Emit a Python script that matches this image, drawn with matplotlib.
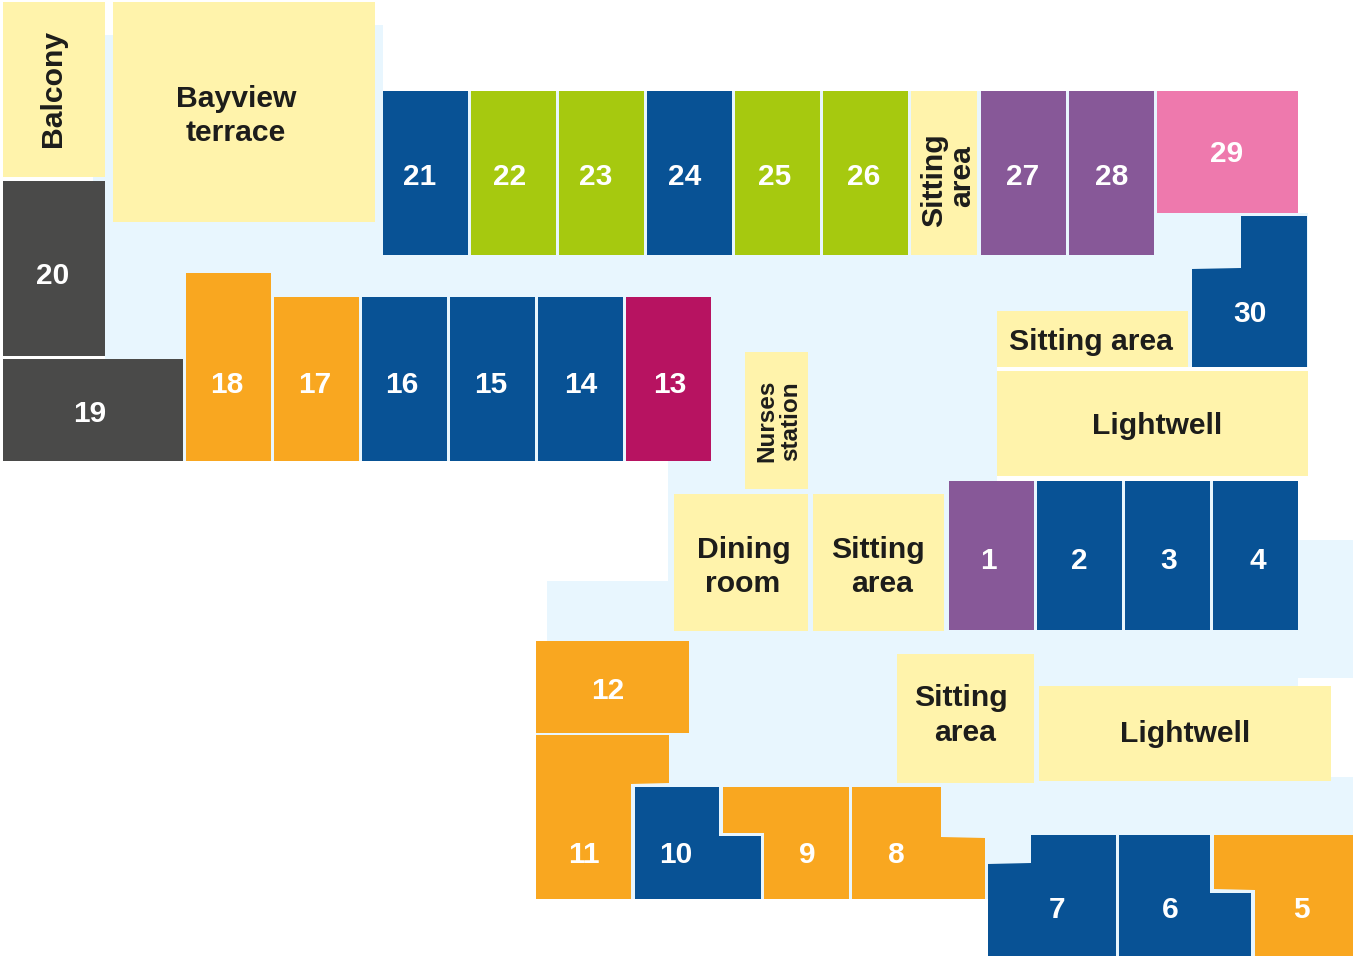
import matplotlib
matplotlib.use('Agg')
import matplotlib.pyplot as plt
from matplotlib.patches import Polygon

plt.rcParams['font.family'] = ['Liberation Sans', 'DejaVu Sans']

W, H = 1353, 957

# corridor outline, in image pixels
floor_outline = [(105, 35), (113, 35), (113, 25), (383, 25), (383, 91), (1298, 91), (1298, 213), (1308, 213),
                 (1308, 481), (1298, 481), (1298, 540), (1353, 540), (1353, 678), (1298, 678), (1298, 777),
                 (1353, 777), (1353, 956), (988, 956), (988, 899), (536, 899), (536, 641), (547, 641),
                 (547, 581), (668, 581), (668, 461), (183, 461), (183, 359), (105, 359), (105, 181), (93, 181),
                 (93, 177), (105, 177)]
lightwell_gap = [(997, 367), (1308, 367), (1308, 481), (997, 481)]

# numbered rooms
room_numbers = ['1', '2', '3', '4', '5', '6', '7', '8', '9', '10',
                '11', '12', '13', '14', '15', '16', '17', '18', '19', '20',
                '21', '22', '23', '24', '25', '26', '27', '28', '29', '30']
room_groups = ['purple', 'blue', 'blue', 'blue', 'orange', 'blue', 'blue', 'orange', 'orange', 'blue',
               'orange', 'orange', 'magenta', 'blue', 'blue', 'blue', 'orange', 'orange', 'grey', 'grey',
               'blue', 'green', 'green', 'blue', 'green', 'green', 'purple', 'purple', 'pink', 'blue']
room_outlines = [
    [(949, 481), (1034, 481), (1034, 630), (949, 630)],
    [(1037, 481), (1122, 481), (1122, 630), (1037, 630)],
    [(1125, 481), (1210, 481), (1210, 630), (1125, 630)],
    [(1213, 481), (1298, 481), (1298, 630), (1213, 630)],
    [(1214, 835), (1353, 835), (1353, 956), (1255, 956), (1255, 890), (1214, 889)],
    [(1119, 835), (1210, 835), (1210, 893), (1251, 893), (1251, 956), (1119, 956)],
    [(988, 864), (1031, 863), (1031, 835), (1116, 835), (1116, 956), (988, 956)],
    [(852, 787), (941, 787), (941, 837), (985, 838), (985, 899), (852, 899)],
    [(723, 787), (849, 787), (849, 899), (764, 899), (764, 833), (723, 833)],
    [(635, 787), (719, 787), (719, 836), (761, 836), (761, 899), (635, 899)],
    [(536, 735), (669, 735), (669, 783), (631, 784), (631, 899), (536, 899)],
    [(536, 641), (689, 641), (689, 733), (536, 733)],
    [(626, 297), (711, 297), (711, 461), (626, 461)],
    [(538, 297), (623, 297), (623, 461), (538, 461)],
    [(450, 297), (535, 297), (535, 461), (450, 461)],
    [(362, 297), (447, 297), (447, 461), (362, 461)],
    [(274, 297), (359, 297), (359, 461), (274, 461)],
    [(186, 273), (271, 273), (271, 461), (186, 461)],
    [(3, 359), (183, 359), (183, 461), (3, 461)],
    [(3, 181), (105, 181), (105, 356), (3, 356)],
    [(383, 91), (468, 91), (468, 255), (383, 255)],
    [(471, 91), (556, 91), (556, 255), (471, 255)],
    [(559, 91), (644, 91), (644, 255), (559, 255)],
    [(647, 91), (732, 91), (732, 255), (647, 255)],
    [(735, 91), (820, 91), (820, 255), (735, 255)],
    [(823, 91), (908, 91), (908, 255), (823, 255)],
    [(981, 91), (1066, 91), (1066, 255), (981, 255)],
    [(1069, 91), (1154, 91), (1154, 255), (1069, 255)],
    [(1157, 91), (1298, 91), (1298, 213), (1157, 213)],
    [(1241, 216), (1307, 216), (1307, 367), (1192, 367), (1192, 269), (1241, 268)],
]
room_label_x = [988, 1079, 1169, 1258, 1301, 1170, 1057, 896, 807, 676,
                584, 608, 670, 581, 491, 402, 315, 227, 90, 53,
                420, 510, 596, 685, 775, 864, 1023, 1112, 1227, 1250]
room_label_y = [561, 561, 561, 561, 910, 910, 910, 855, 855, 855,
                855, 691, 385, 385, 385, 385, 385, 385, 414, 276,
                177, 177, 177, 177, 177, 177, 177, 177, 154, 314]

# shared spaces
space_outlines = [
    [(3, 2), (105, 2), (105, 177), (3, 177)],
    [(113, 2), (375, 2), (375, 222), (113, 222)],
    [(911, 91), (977, 91), (977, 255), (911, 255)],
    [(997, 311), (1188, 311), (1188, 367), (997, 367)],
    [(997, 371), (1308, 371), (1308, 476), (997, 476)],
    [(745, 352), (808, 352), (808, 489), (745, 489)],
    [(674, 494), (808, 494), (808, 631), (674, 631)],
    [(813, 494), (944, 494), (944, 631), (813, 631)],
    [(897, 654), (1034, 654), (1034, 783), (897, 783)],
    [(1039, 686), (1331, 686), (1331, 781), (1039, 781)],
]
space_labels = ['Balcony', 'Bayview', 'terrace', 'Sitting', 'area', 'Sitting area', 'Lightwell',
                'Nurses', 'station', 'Dining', 'room', 'Sitting', 'area', 'Sitting', 'area', 'Lightwell']
space_label_x = [53, 236, 236, 934, 962, 1091, 1157, 767, 791, 744, 743, 878, 882, 961, 965, 1185]
space_label_y = [88, 99, 133, 180, 176, 342, 426, 421, 421, 550, 584, 550, 584, 698, 733, 734]
space_label_rot = [90, 0, 0, 90, 90, 0, 0, 90, 90, 0, 0, 0, 0, 0, 0, 0]
space_label_size = [21.7, 21.7, 21.7, 21.7, 21.7, 21.7, 21.7, 17.5, 17.5, 21.7, 21.7, 21.7, 21.7, 21.7, 21.7, 21.7]

group_colors = {'blue': '#085295', 'green': '#A6C90F', 'orange': '#F9A720', 'purple': '#875898',
                'pink': '#EE79AD', 'magenta': '#B71361', 'grey': '#4A4A49'}
floor_color = '#E8F6FE'
space_color = '#FFF3AB'
dark_text = '#1D1D1B'

fig = plt.figure(figsize=(W / 100, H / 100), dpi=100)
ax = fig.add_axes([0, 0, 1, 1])
ax.set_xlim(0, W)
ax.set_ylim(H, 0)
ax.axis('off')

ax.add_patch(Polygon(floor_outline, closed=True, fc=floor_color, ec='none', zorder=1))
ax.add_patch(Polygon(lightwell_gap, closed=True, fc='white', ec='none', zorder=2))

for outline in space_outlines:
    ax.add_patch(Polygon(outline, closed=True, fc=space_color, ec='none', zorder=3))

for outline, group in zip(room_outlines, room_groups):
    ax.add_patch(Polygon(outline, closed=True, fc=group_colors[group], ec='none', zorder=3))

for num, x, y in zip(room_numbers, room_label_x, room_label_y):
    ax.text(x, y, num, color='white', fontsize=21.5, fontweight='bold', ha='center', va='center', zorder=4)

for label, x, y, rot, size in zip(space_labels, space_label_x, space_label_y, space_label_rot, space_label_size):
    ax.text(x, y, label, color=dark_text, fontsize=size, fontweight='bold', ha='center', va='center',
            rotation=rot, zorder=4)

fig.savefig('out.png', dpi=100)
